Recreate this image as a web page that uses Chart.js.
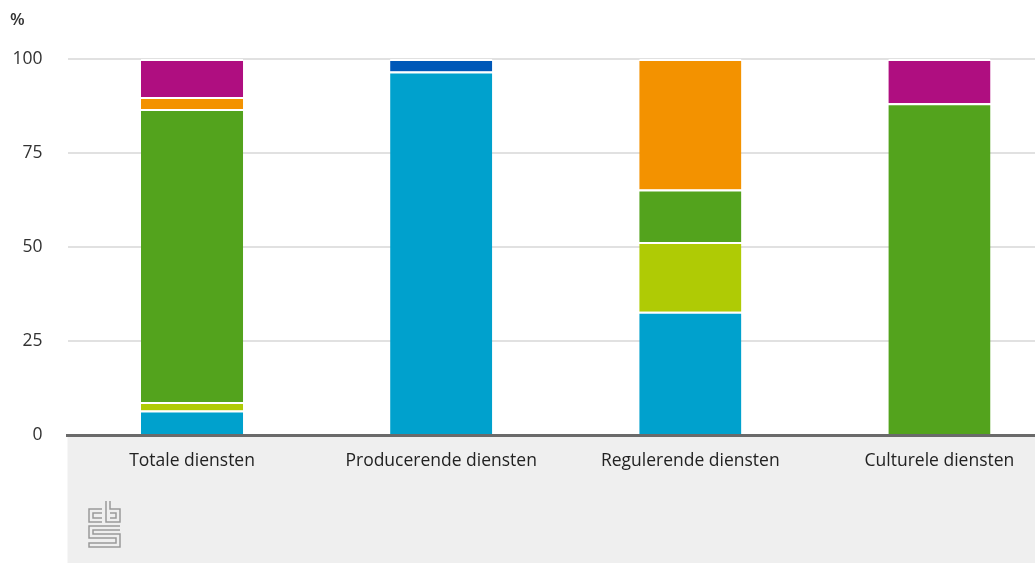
<!DOCTYPE html>
<html>
<head>
<meta charset="utf-8">
<script src="https://cdn.jsdelivr.net/npm/chart.js@4.4.1/dist/chart.umd.min.js"></script>
<style>
  html, body { margin: 0; padding: 0; background: #fff; overflow: hidden; }
  #wrap { position: relative; width: 1064px; height: 563px; }
</style>
</head>
<body>
<div id="wrap"><canvas id="chart"></canvas></div>
<script>
// categorieen en waarden (%)
const categories = ['Totale diensten', 'Producerende diensten', 'Regulerende diensten', 'Culturele diensten'];
const yTicks = [0, 25, 50, 75, 100];

const serieBlauw   = [6.5, 96.7, 32.8, null];
const serieLime    = [2.3, null, 18.5, null];
const serieGroen   = [77.9, null, 14.0, 88.2];
const serieOranje  = [3.2, null, 34.7, null];
const serieMagenta = [10.1, null, null, 11.8];
const serieDonker  = [null, 3.3, null, null];

const FONT = '"Open Sans", "Noto Sans", sans-serif';

// grijze achtergrond onder de x-as, % label en logo
const decor = {
    id: 'decor',
    beforeDraw(chart) {
        const { ctx, chartArea } = chart;
        ctx.save();
        ctx.fillStyle = '#efefef';
        ctx.fillRect(chartArea.left, chartArea.bottom, chart.width - chartArea.left, chart.height - chartArea.bottom);
        ctx.restore();
    },
    afterDraw(chart) {
        const { ctx } = chart;
        ctx.save();
        ctx.fillStyle = '#333';
        ctx.font = '600 17px ' + FONT;
        ctx.textBaseline = 'middle';
        ctx.textAlign = 'left';
        ctx.fillText('%', 10, 20);

        // cbs logo (benadering)
        ctx.strokeStyle = '#9a9a9a';
        ctx.lineWidth = 1.5;
        const x = 89, y = 501;
        ctx.beginPath();
        // c
        ctx.moveTo(x + 13, y + 8); ctx.lineTo(x, y + 8); ctx.lineTo(x, y + 21); ctx.lineTo(x + 13, y + 21);
        ctx.moveTo(x + 13, y + 12); ctx.lineTo(x + 4, y + 12); ctx.lineTo(x + 4, y + 17); ctx.lineTo(x + 13, y + 17);
        // b
        ctx.moveTo(x + 17, y); ctx.lineTo(x + 17, y + 21); ctx.lineTo(x + 31, y + 21); ctx.lineTo(x + 31, y + 8); ctx.lineTo(x + 21, y + 8); ctx.lineTo(x + 21, y);
        ctx.moveTo(x + 21, y + 12); ctx.lineTo(x + 27, y + 12); ctx.lineTo(x + 27, y + 17); ctx.lineTo(x + 21, y + 17);
        // s
        ctx.moveTo(x + 31, y + 25); ctx.lineTo(x, y + 25); ctx.lineTo(x, y + 37); ctx.lineTo(x + 27, y + 37);
        ctx.lineTo(x + 27, y + 42); ctx.lineTo(x, y + 42); ctx.lineTo(x, y + 46); ctx.lineTo(x + 31, y + 46);
        ctx.lineTo(x + 31, y + 33); ctx.lineTo(x + 4, y + 33); ctx.lineTo(x + 4, y + 29); ctx.lineTo(x + 31, y + 29);
        ctx.stroke();
        ctx.restore();
    }
};

function serie(label, data, color) {
    return {
        label: label,
        data: data,
        backgroundColor: color,
        borderColor: '#ffffff',
        borderWidth: { top: 2, right: 0, bottom: 0, left: 0 },
        borderSkipped: false
    };
}

const ctx = document.getElementById('chart').getContext('2d');
const chart = new Chart(ctx, {
    type: 'bar',
    data: {
        labels: categories,
        datasets: [
            serie('Serie 1', serieBlauw, '#00a1cd'),
            serie('Serie 2', serieLime, '#afcb05'),
            serie('Serie 3', serieGroen, '#53a31d'),
            serie('Serie 4', serieOranje, '#f39200'),
            serie('Serie 5', serieMagenta, '#af0e80'),
            serie('Serie 6', serieDonker, '#0058b8')
        ]
    },
    options: {
        responsive: true,
        maintainAspectRatio: false,
        animation: false,
        layout: { padding: { top: 59, right: 0, bottom: 0, left: 0 } },
        categoryPercentage: 1,
        barPercentage: 0.41,
        plugins: {
            legend: { display: false },
            tooltip: { enabled: false }
        },
        scales: {
            x: {
                stacked: true,
                grid: { display: false, drawTicks: false },
                border: { display: true, color: '#6a6a6a', width: 3 },
                ticks: {
                    color: '#222',
                    padding: 16,
                    maxRotation: 0,
                    font: { family: FONT, size: 17.5 }
                },
                afterFit(scale) { scale.height = 128; }
            },
            y: {
                stacked: true,
                min: 0,
                max: 100,
                afterBuildTicks(scale) { scale.ticks = yTicks.map(v => ({ value: v })); },
                grid: { color: '#e1e1e1', lineWidth: 2, drawTicks: false },
                border: { display: false },
                ticks: {
                    color: '#333',
                    padding: 25,
                    font: { family: FONT, size: 17.5 }
                },
                afterFit(scale) { scale.width = 67.5; }
            }
        }
    },
    plugins: [decor]
});
</script>
</body>
</html>
